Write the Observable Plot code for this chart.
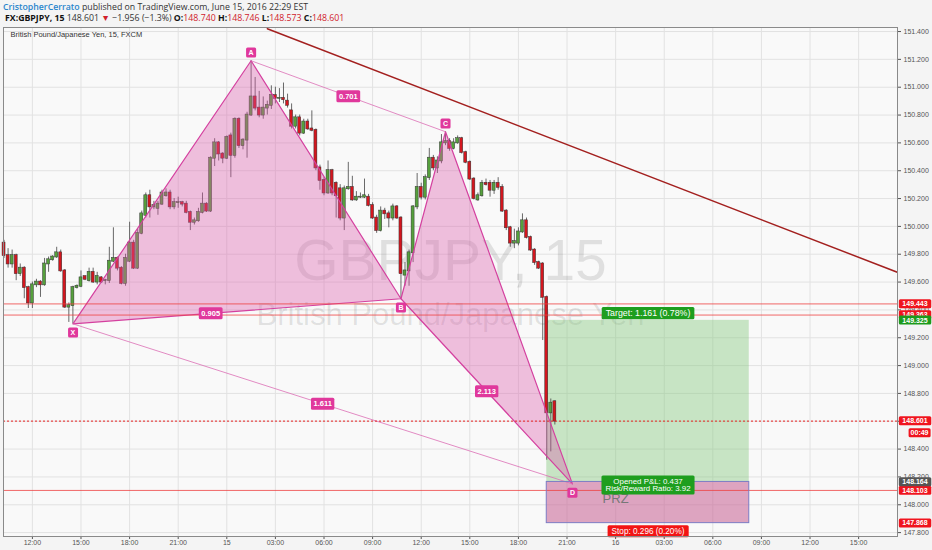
<!DOCTYPE html>
<html>
<head>
<meta charset="utf-8">
<script src="https://cdn.jsdelivr.net/npm/d3@7"></script>
<script src="https://cdn.jsdelivr.net/npm/@observablehq/plot@0.6"></script>
<style>
  body { margin: 0; background: #f4f4f4; font-family: "Open Sans", sans-serif; }
  #head { position: relative; width: 932px; height: 27px; }
  #head div { position: absolute; white-space: nowrap; font-size: 8.75px; color: #333; }
  .l1 { left: 3px; top: 1px; }
  .l2 { left: 5px; top: 12px; }
  .user { color: #2a86cc; font-weight: 600; }
  .red { color: #d0202a; }
  .b { font-weight: 700; color: #111; }
</style>
</head>
<body>
<div id="head">
  <div class="l1"><span class="user">CristopherCerrato</span> published on TradingView.com, June 15, 2016 22:29 EST</div>
  <div class="l2"><span class="b">FX:GBPJPY, 15</span> 148.601 <span class="red">▼</span> −1.956 (−1.3%) <span class="b">O:</span><span class="red">148.740</span> <span class="b">H:</span><span class="red">148.746</span> <span class="b">L:</span><span class="red">148.573</span> <span class="b">C:</span><span class="red">148.601</span></div>
</div>
<div id="chart"></div>
<script>
// 15 minute candles, first one opens 14 June 10:15
const candleStart = new Date("2016-06-14T10:15Z");

const opens = [
  149.88,149.79,149.73,149.79,149.66,149.70,149.56,149.45,149.58,149.60,
  149.58,149.73,149.76,149.78,149.81,149.68,149.42,149.43,149.56,149.57,
  149.64,149.61,149.67,149.60,149.63,149.61,149.61,149.75,149.77,149.70,
  149.59,149.75,149.88,149.70,149.95,150.08,150.22,150.14,150.13,150.16,
  150.22,150.24,150.14,150.17,150.17,150.16,150.10,150.03,150.04,150.10,
  150.16,150.11,150.49,150.60,150.52,150.49,150.65,150.51,150.77,150.58,
  150.62,150.80,150.93,150.85,150.80,150.85,150.87,150.94,150.92,150.92,
  150.90,150.83,150.72,150.78,150.67,150.75,150.70,150.69,150.42,150.33,
  150.24,150.40,150.31,150.27,150.06,150.27,150.28,150.19,150.21,150.21,
  150.21,150.15,150.06,149.97,150.11,150.09,150.06,150.14,150.06,149.65,
  149.68,149.81,150.14,150.28,150.21,150.35,150.49,150.42,150.47,150.60,
  150.61,150.56,150.60,150.63,150.53,150.46,150.34,150.19,150.22,150.31,
  150.31,150.26,150.31,150.28,150.11,149.99,149.88,149.88,149.96,150.04,
  149.92,149.83,149.74,149.73,149.49,148.66,148.740
];
const highs = [
  149.90,149.84,149.83,149.80,149.73,149.71,149.57,149.60,149.62,149.61,
  149.77,149.78,149.79,149.85,149.83,149.69,149.45,149.57,149.58,149.68,
  149.64,149.70,149.70,149.67,149.64,149.62,149.85,149.99,149.78,149.71,
  149.80,150.03,149.90,149.98,150.11,150.24,150.26,150.18,150.18,150.26,
  150.27,150.26,150.20,150.21,150.18,150.18,150.11,150.06,150.13,150.24,
  150.17,150.50,150.63,150.61,150.53,150.65,150.67,150.78,150.78,150.63,
  150.82,151.19,151.07,150.97,150.93,150.90,151.01,151.00,150.99,151.03,
  150.95,150.88,150.80,150.80,150.77,150.77,150.83,150.70,150.44,150.35,
  150.47,150.41,150.32,150.30,150.29,150.46,150.36,150.25,150.24,150.34,
  150.23,150.17,150.08,150.14,150.13,150.11,150.16,150.15,150.07,149.74,
  149.83,150.15,150.38,150.31,150.37,150.56,150.51,150.50,150.66,150.68,
  150.63,150.63,150.65,150.64,150.54,150.47,150.35,150.24,150.33,150.34,
  150.33,150.33,150.35,150.30,150.12,150.00,149.98,149.99,150.09,150.06,
  149.93,149.84,149.75,149.74,149.50,148.76,148.746
];
const lows = [
  149.77,149.70,149.70,149.61,149.64,149.48,149.41,149.41,149.56,149.49,
  149.57,149.67,149.75,149.77,149.67,149.41,149.31,149.30,149.55,149.56,
  149.61,149.60,149.59,149.58,149.59,149.58,149.59,149.74,149.68,149.58,
  149.57,149.74,149.69,149.69,149.94,150.06,150.06,150.12,150.08,150.15,
  150.21,150.12,150.12,150.13,150.14,150.09,149.97,150.01,150.03,150.09,
  150.10,150.10,150.43,150.47,150.45,150.48,150.35,150.49,150.56,150.55,
  150.49,150.79,150.83,150.78,150.77,150.80,150.84,150.88,150.89,150.88,
  150.85,150.70,150.70,150.65,150.66,150.69,150.68,150.40,150.26,150.22,
  150.23,150.22,150.06,150.04,149.97,150.26,150.18,150.18,150.20,150.20,
  150.14,150.05,149.95,149.96,150.05,149.99,150.04,150.05,149.48,149.57,
  149.57,149.74,150.12,150.19,150.19,150.33,150.40,150.38,150.45,150.58,
  150.54,150.55,150.59,150.52,150.45,150.33,150.19,150.18,150.21,150.29,
  150.21,150.23,150.26,150.10,149.97,149.85,149.84,149.86,149.95,149.91,
  149.82,149.72,149.69,149.18,148.32,148.38,148.573
];
const closes = [
  149.79,149.73,149.79,149.66,149.70,149.56,149.45,149.58,149.60,149.58,
  149.73,149.76,149.78,149.81,149.68,149.42,149.43,149.56,149.57,149.63,
  149.62,149.67,149.60,149.64,149.60,149.61,149.75,149.77,149.70,149.59,
  149.77,149.88,149.70,149.95,150.09,150.22,150.14,150.15,150.16,150.24,
  150.24,150.14,150.17,150.17,150.16,150.10,150.03,150.04,150.10,150.16,
  150.11,150.49,150.60,150.52,150.49,150.64,150.51,150.77,150.58,150.62,
  150.80,150.93,150.85,150.80,150.85,150.87,150.94,150.92,150.92,150.91,
  150.87,150.72,150.78,150.67,150.75,150.70,150.69,150.42,150.33,150.24,
  150.40,150.24,150.22,150.06,150.27,150.28,150.19,150.21,150.21,150.22,
  150.15,150.06,149.97,150.11,150.09,150.06,150.14,150.06,149.66,149.68,
  149.81,150.14,150.28,150.21,150.35,150.49,150.42,150.47,150.60,150.61,
  150.56,150.60,150.63,150.53,150.46,150.34,150.20,150.22,150.31,150.30,
  150.26,150.31,150.28,150.11,149.99,149.88,149.89,149.96,150.04,149.92,
  149.83,149.74,149.70,149.49,148.66,148.73,148.601
];

// XABCD pattern
const pointNames = ["X", "A", "B", "C", "D"];
const pointTimes = ["2016-06-14T14:30Z", "2016-06-15T01:30Z", "2016-06-15T10:45Z", "2016-06-15T13:30Z", "2016-06-15T21:20Z"];
const pointPrices = [149.30, 151.19, 149.48, 150.68, 148.15];
const ratioPairs = [["X", "B"], ["A", "C"], ["B", "D"], ["X", "D"]];
const ratioValues = ["0.905", "0.701", "2.113", "1.611"];

// long position tool
const entryPrice = 148.164;
const targetPrice = 149.325;
const stopPrice = 147.868;
const positionTimes = ["2016-06-15T19:45Z", "2016-06-16T08:15Z"];
const targetText = "Target: 1.161 (0.78%)";
const openedText = "Opened P&L: 0.437\nRisk/Reward Ratio: 3.92";
const stopText = "Stop: 0.296 (0.20%)";

// horizontal levels + trend line
const levelPrices = [149.443, 149.363, 148.103];
const lastPrice = 148.601;
const trendTimes = ["2016-06-15T02:30Z", "2016-06-16T17:24Z"];
const trendPrices = [151.42, 149.67];

// right axis price tags
const tagPrices = [149.443, 149.363, 149.325, 148.601, 148.164, 148.103, 147.868];
const tagKinds = ["red", "red", "green", "red", "gray", "red", "red"];
const countdown = "00:49";

const priceTicks = [147.8, 148.0, 148.2, 148.4, 148.6, 148.8, 149.0, 149.2, 149.4, 149.6,
  149.8, 150.0, 150.2, 150.4, 150.6, 150.8, 151.0, 151.2, 151.4];
const timeTicks = d3.utcHour.range(new Date("2016-06-14T12:00Z"), new Date("2016-06-16T16:00Z"), 3);

const xDomain = [new Date("2016-06-14T10:13Z"), new Date("2016-06-16T17:24Z")];
const yDomain = [147.772, 151.429];

const candles = opens.map((o, i) => ({
  time: new Date(+candleStart + i * 15 * 60000),
  open: o, high: highs[i], low: lows[i], close: closes[i]
}));
const half = 5.5 * 60000;

const pts = pointNames.map((n, i) => ({ name: n, time: new Date(pointTimes[i]), price: pointPrices[i] }));
const P = Object.fromEntries(pts.map((p) => [p.name, p]));
const ratioAt = [0.42, 0.5, 0.5, 0.5];
const ratios = ratioPairs.map(([a, b], i) => {
  const f = ratioAt[i];
  return {
    text: ratioValues[i],
    time: new Date(+P[a].time + f * (P[b].time - P[a].time)),
    price: P[a].price + f * (P[b].price - P[a].price)
  };
});

const t1 = new Date(positionTimes[0]), t2 = new Date(positionTimes[1]);
const zones = [
  { kind: "target", x1: t1, x2: t2, y1: entryPrice, y2: targetPrice },
  { kind: "stop", x1: t1, x2: t2, y1: stopPrice, y2: entryPrice }
];
const midTime = new Date((+t1 + +t2) / 2);
const trend = trendTimes.map((t, i) => ({ time: new Date(t), price: trendPrices[i] }));
const tags = tagPrices.map((p, i) => ({ price: p, kind: tagKinds[i] }));
const tagColors = { red: "#f0141e", green: "#1c9a1c", gray: "#555555" };

const pink = "#d4409f";
const labelPink = "#e0389c";

function fmtTime(d) {
  return d.getUTCHours() === 0 ? String(d.getUTCDate()) : d3.utcFormat("%H:%M")(d);
}

const chart = Plot.plot({
  width: 932,
  height: 523,
  marginTop: 0,
  marginLeft: 3,
  marginRight: 35,
  marginBottom: 14,
  style: { background: "#f4f4f4", fontFamily: "'Liberation Sans', Arial, sans-serif", fontSize: "7px" },
  x: { type: "utc", domain: xDomain },
  y: { domain: yDomain },
  marks: [
    Plot.frame({ fill: "#f9f9f9" }),
    Plot.gridX(timeTicks, { stroke: "#e2e2e2", strokeOpacity: 1 }),
    Plot.gridY(priceTicks, { stroke: "#e2e2e2", strokeOpacity: 1 }),

    // watermark
    Plot.text(["GBPJPY, 15"], { frameAnchor: "middle", dy: -20, fontSize: 57, fill: "#000", fillOpacity: 0.1 }),
    Plot.text(["British Pound/Japanese Yen"], { frameAnchor: "middle", dy: 33, fontSize: 31, fill: "#000", fillOpacity: 0.1 }),
    Plot.text(["British Pound/Japanese Yen, 15, FXCM"], { frameAnchor: "top-left", dx: 7, dy: 4, textAnchor: "start", fontSize: 7.5, fill: "#333" }),

    // position zones
    Plot.rect(zones.filter((z) => z.kind === "target"), { x1: "x1", x2: "x2", y1: "y1", y2: "y2", fill: "#7cc576", fillOpacity: 0.4 }),
    Plot.rect(zones.filter((z) => z.kind === "stop"), { x1: "x1", x2: "x2", y1: "y1", y2: "y2", fill: "#c96a9a", fillOpacity: 0.6 }),

    // candles
    Plot.ruleX(candles, { x: "time", y1: "low", y2: "high", stroke: "#444", strokeWidth: 0.8 }),
    Plot.rect(candles.filter((d) => d.close >= d.open), {
      x1: (d) => new Date(+d.time - half), x2: (d) => new Date(+d.time + half),
      y1: "open", y2: "close", fill: "#55a03c", stroke: "#333", strokeWidth: 0.5, insetTop: -0.5, insetBottom: -0.5
    }),
    Plot.rect(candles.filter((d) => d.close < d.open), {
      x1: (d) => new Date(+d.time - half), x2: (d) => new Date(+d.time + half),
      y1: "open", y2: "close", fill: "#d3161e", stroke: "#333", strokeWidth: 0.5, insetTop: -0.5, insetBottom: -0.5
    }),

    // pattern
    Plot.line([P.X, P.A, P.B, P.X], { x: "time", y: "price", fill: "#dc5aab", fillOpacity: 0.37, stroke: pink, strokeWidth: 1.2 }),
    Plot.line([P.B, P.C, P.D, P.B], { x: "time", y: "price", fill: "#dc5aab", fillOpacity: 0.37, stroke: pink, strokeWidth: 1.2 }),
    Plot.line([P.A, P.C], { x: "time", y: "price", stroke: "#dc6fb5", strokeWidth: 0.8 }),
    Plot.line([P.X, P.D], { x: "time", y: "price", stroke: "#dc6fb5", strokeWidth: 0.8 }),

    // levels
    Plot.ruleY(levelPrices, { stroke: "#ee4040", strokeWidth: 0.8 }),
    Plot.ruleY([lastPrice], { stroke: "#e82020", strokeWidth: 1, strokeDasharray: "2,2" }),
    Plot.line(trend, { x: "time", y: "price", stroke: "#a3201f", strokeWidth: 1.5, clip: true }),
    Plot.rect(zones.filter((z) => z.kind === "stop"), { x1: "x1", x2: "x2", y1: "y1", y2: "y2", fill: "none", stroke: "#7c7cc4", strokeWidth: 1 }),
    Plot.text(["PRZ"], { x: () => new Date("2016-06-16T00:00Z"), y: () => 148.045, fontSize: 13, fill: "#777" }),

    // labels with boxes
    Plot.text(pts.filter((p) => p.name === "A" || p.name === "C"), { x: "time", y: "price", text: "name", dy: -8, fill: "#fff", fontWeight: "bold", fontSize: 7, ariaDescription: `box:${labelPink}:2.5:1.5` }),
    Plot.text(pts.filter((p) => p.name === "X" || p.name === "B" || p.name === "D"), { x: "time", y: "price", text: "name", dy: 9, fill: "#fff", fontWeight: "bold", fontSize: 7, ariaDescription: `box:${labelPink}:2.5:1.5` }),
    Plot.text(ratios, { x: "time", y: "price", text: "text", fill: "#fff", fontSize: 7.5, fontWeight: "bold", ariaDescription: `box:${labelPink}:2.5:1.5` }),
    Plot.text([targetText], { x: () => midTime, y: () => targetPrice, dy: -7, fill: "#fff", fontSize: 8.8, ariaDescription: "box:#1e9e1e:4:1.2" }),
    Plot.text([openedText], { x: () => midTime, y: () => entryPrice, dy: 3, fill: "#fff", fontSize: 7.9, lineHeight: 1, ariaDescription: "box:#1e9e1e:4:1" }),
    Plot.text([stopText], { x: () => midTime, y: () => stopPrice, dy: 8, fill: "#fff", fontSize: 8.2, ariaDescription: "box:#f21414:4:1.5" }),

    // axes
    Plot.axisX(timeTicks, { tickFormat: fmtTime, tickSize: 3, tickPadding: 1, fontSize: 7, color: "#555", label: null }),
    Plot.axisY(priceTicks, { anchor: "right", tickFormat: (d) => d.toFixed(3), tickSize: 3, tickPadding: 3, fontSize: 7, color: "#555", label: null }),
    Plot.frame({ stroke: "#8a8a8a" }),

    // axis tags
    ...Object.keys(tagColors).map((k) =>
      Plot.text(tags.filter((t) => t.kind === k), {
        x: () => xDomain[1], y: "price", text: (d) => d.price.toFixed(3), dx: 17.5,
        fill: "#fff", fontSize: 7, fontWeight: "bold", ariaDescription: `box:${tagColors[k]}:3.5:1`
      })
    ),
    Plot.text([countdown], { x: () => xDomain[1], y: () => lastPrice, dx: 31, dy: 12, textAnchor: "end", fill: "#fff", fontSize: 7, fontWeight: "bold", ariaDescription: "box:#f0141e:2:1" })
  ]
});

document.getElementById("chart").append(chart);

// draw a background box behind every text of the "box:" marks
chart.querySelectorAll('g[aria-description^="box:"]').forEach((g) => {
  const [, fill, px, py] = g.getAttribute("aria-description").split(":");
  g.querySelectorAll("text").forEach((t) => {
    const b = t.getBBox();
    const r = document.createElementNS("http://www.w3.org/2000/svg", "rect");
    r.setAttribute("x", b.x - +px);
    r.setAttribute("y", b.y - +py);
    r.setAttribute("width", b.width + 2 * +px);
    r.setAttribute("height", b.height + 2 * +py);
    r.setAttribute("rx", 1.5);
    r.setAttribute("fill", fill);
    r.setAttribute("stroke", "none");
    if (t.getAttribute("transform")) r.setAttribute("transform", t.getAttribute("transform"));
    t.parentNode.insertBefore(r, t);
  });
});
</script>
</body>
</html>
